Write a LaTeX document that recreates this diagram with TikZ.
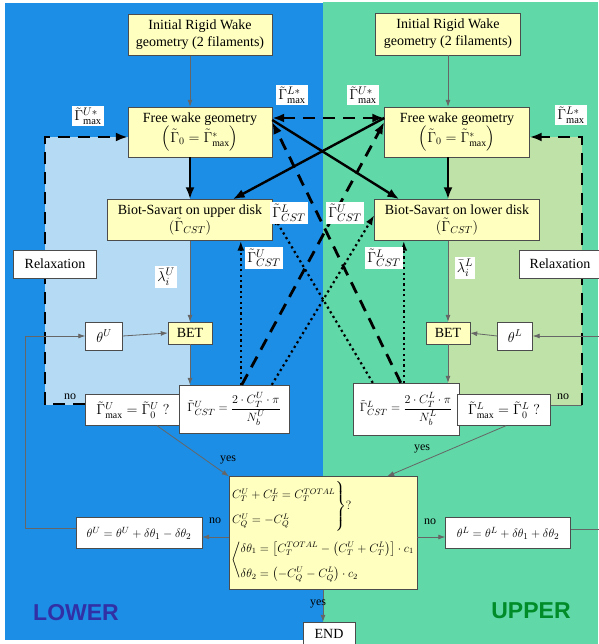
\documentclass[tikz,border=0pt]{standalone}
\usepackage{amsmath,amssymb}
\usepackage{fontspec}
\setmainfont{Liberation Serif}
\newfontfamily\capsfont{Liberation Sans}
\usepackage{tikz}
\usetikzlibrary{positioning, calc, arrows.meta, backgrounds}
\definecolor{sky}{RGB}{28,142,230}
\definecolor{mint}{RGB}{96,216,168}
\definecolor{paleblue}{RGB}{180,218,244}
\definecolor{palegreen}{RGB}{190,226,168}
\definecolor{cream}{RGB}{255,255,192}
\definecolor{lowink}{RGB}{50,48,165}
\definecolor{upink}{RGB}{0,140,40}
\newcommand{\rowgap}{\renewcommand{\arraystretch}{1.8}}
\tikzset{
  box/.style={draw=black!70,fill=cream,inner sep=2pt,
    font=\fontsize{14}{17}\selectfont,align=center},
  wbox/.style={draw=black!70,fill=white,inner sep=2pt,
    font=\fontsize{14}{17}\selectfont,align=center},
  tag/.style={fill=white,inner sep=2pt,font=\fontsize{15}{17}\selectfont},
  yn/.style={inner sep=1pt,font=\fontsize{12}{12}\selectfont},
  arr/.style={-{Latex[length=7pt,width=5pt]},draw=black!60,line width=0.8pt},
  tarr/.style={-{Latex[length=12pt,width=9pt]},line width=2.4pt},
  darr/.style={-{Latex[length=12pt,width=9pt]},line width=2.8pt,
    dash pattern=on 12pt off 8pt},
  oarr/.style={-{Latex[length=10pt,width=7pt]},line width=2.2pt,
    dash pattern=on 2.2pt off 3.2pt},
}

\begin{document}
\begin{tikzpicture}[x=1pt,y=-1pt]
  \useasboundingbox (0,0) rectangle (598,644);
  % the two halves
  \fill[white] (0,0) rectangle (598,644);
  \fill[sky] (5,3) rectangle (323,640);
  \fill[mint] (323,2) rectangle (598,644);
  \fill[paleblue] (45,137) rectangle (190,405);
  \fill[palegreen] (448,137) rectangle (582,405);

  % upper disk (left)
  \node[box,minimum width=144pt,minimum height=41pt] (iniU) at (200,35)
    {Initial Rigid Wake\\geometry (2 filaments)};
  \node[box,minimum width=144pt,minimum height=50pt] (fwU) at (200,132)
    {Free wake geometry\\$\left(\tilde{\Gamma}_0=\tilde{\Gamma}^{*}_{\max}\right)$};
  \node[box,minimum width=165pt,minimum height=41pt] (bsU) at (190,220)
    {Biot-Savart on upper disk\\$(\tilde{\Gamma}_{CST})$};
  \node[box,minimum width=44pt,minimum height=22pt] (betU) at (190,333) {BET};
  \node[wbox,minimum width=37pt,minimum height=28pt] (thU) at (104,336) {$\theta^U$};
  \node[wbox,minimum width=95pt,minimum height=31pt] (chkU) at (133,410)
    {$\tilde{\Gamma}^{U}_{\max}=\tilde{\Gamma}^{U}_{0}\;?$};
  \node[wbox,minimum width=110pt,minimum height=48pt,
    font=\fontsize{13}{15}\selectfont] (frmU) at (234,409)
    {$\tilde{\Gamma}^{U}_{CST}=\dfrac{2\cdot C_T^U\cdot\pi}{N_b^U}$};

  % lower disk (right)
  \node[box,minimum width=145pt,minimum height=42pt] (iniL) at (448,34)
    {Initial Rigid Wake\\geometry (2 filaments)};
  \node[box,minimum width=145pt,minimum height=50pt] (fwL) at (457,132)
    {Free wake geometry\\$\left(\tilde{\Gamma}_0=\tilde{\Gamma}^{*}_{\max}\right)$};
  \node[box,minimum width=165pt,minimum height=41pt] (bsL) at (457,220)
    {Biot-Savart on lower disk\\$(\tilde{\Gamma}_{CST})$};
  \node[box,minimum width=44pt,minimum height=22pt] (betL) at (448,333) {BET};
  \node[wbox,minimum width=35pt,minimum height=28pt] (thL) at (515,336) {$\theta^L$};
  \node[wbox,minimum width=106pt,minimum height=52pt,
    font=\fontsize{13}{15}\selectfont] (frmL) at (406,409)
    {$\tilde{\Gamma}^{L}_{CST}=\dfrac{2\cdot C_T^L\cdot\pi}{N_b^L}$};
  \node[wbox,minimum width=93pt,minimum height=31pt] (chkL) at (504,410)
    {$\tilde{\Gamma}^{L}_{\max}=\tilde{\Gamma}^{L}_{0}\;?$};

  % trim check
  \node[box,align=left,minimum width=186pt,minimum height=113pt,
    font=\fontsize{12}{14}\selectfont] (trim) at (323,533)
    {\rowgap$\left.\begin{array}{@{}l@{}}C_T^U+C_T^L=C_T^{TOTAL}\\
       C_Q^U=-C_Q^L\end{array}\right\}?$\\[2pt]
     \rowgap$\left\langle\begin{array}{@{}l@{}}
       \delta\theta_1=\left[C_T^{TOTAL}-\left(C_T^U+C_T^L\right)\right]\cdot c_1\\
       \delta\theta_2=\left(-C_Q^U-C_Q^L\right)\cdot c_2\end{array}\right.$};
  \node[wbox,minimum width=126pt,minimum height=31pt,
    font=\fontsize{13}{15}\selectfont] (updU) at (139,533)
    {$\theta^U=\theta^U+\delta\theta_1-\delta\theta_2$};
  \node[wbox,minimum width=125pt,minimum height=31pt,
    font=\fontsize{13}{15}\selectfont] (updL) at (508,533)
    {$\theta^L=\theta^L+\delta\theta_1+\delta\theta_2$};
  \node[wbox,minimum width=52pt,minimum height=24pt] (endn) at (329,634) {END};

  % main flow
  \draw[arr] (iniU.south -| betU) -- (fwU.north -| betU);
  \draw[arr] (iniL.south -| betL) -- (fwL.north -| betL);
  \draw[tarr] (fwU.south -| betU) -- (bsU.north -| betU);
  \draw[tarr] (fwL.south -| betL) -- (bsL.north -| betL);
  \draw[arr] (bsU.south -| betU) -- (betU.north);
  \draw[arr] (bsL.south -| betL) -- (betL.north);
  \draw[arr] (betU.south) -- (betU.south |- frmU.north);
  \draw[arr] (betL.south) -- (betL.south |- frmL.north);
  \draw[arr] (thU.east) -- (betU.west);
  \draw[arr] (thL.west) -- (betL.east);

  % crossing between the disks
  \coordinate (dU) at ($(frmU.north west)+(62,0)$);
  \coordinate (dL) at ($(frmL.north west)+(51,0)$);
  \draw[tarr] ($(fwU.east)+(0,-12)$) -- ($(bsL.north west)+(25,0)$);
  \draw[tarr] ($(fwL.west)+(0,-14)$) -- ($(bsU.north east)+(-40,0)$);
  \draw[darr,{Latex[length=12pt,width=9pt]}-{Latex[length=12pt,width=9pt]}]
    ($(fwU.east)+(0,-14)$) -- ($(fwL.west)+(0,-14)$);
  \draw[darr] ($(frmL.north west)+(48,0)$) -- ($(fwU.east)+(0,-10)$);
  \draw[darr] ($(frmU.north west)+(63,0)$) -- ($(fwL.west)+(0,-10)$);
  \draw[oarr] (dU) -- (dU |- bsU.south);
  \draw[oarr] (dL) -- (dL |- bsL.south);
  \draw[oarr] ($(frmU.north west)+(93,0)$) -- ($(bsL.west)+(0,-5)$);
  \draw[oarr] ($(frmL.north west)+(20,0)$) -- ($(bsU.east)+(0,-5)$);

  % relaxation loops
  \draw[darr] ($(chkU.west)+(0,-6)$) -| (45,137) -- ($(fwU.west)+(0,5)$);
  \draw[draw=black!60,line width=0.8pt] ($(chkL.east)+(0,-5)$) -- (582,405);
  \draw[darr] (582,405) -- (582,137) -- ($(fwL.east)+(0,5)$);
  \node[wbox,minimum width=83pt,minimum height=28pt] (rlxU) at (55,264) {Relaxation};
  \node[wbox,minimum width=82pt,minimum height=28pt] (rlxL) at (560,264) {Relaxation};

  % trim loops
  \draw[arr] ($(chkU.south)+(24,0)$) -- (trim.north west);
  \draw[arr] ($(chkL.south)+(2,0)$) -- ($(trim.north east)+(-30,0)$);
  \draw[arr] ($(trim.west)+(0,4)$) -- ($(updU.east)+(0,4)$);
  \draw[arr] ($(trim.east)+(0,4)$) -- ($(updL.west)+(0,4)$);
  \draw[arr] (trim.south) -- (trim.south |- endn.north);
  \draw[arr] ($(updU.west)+(0,-5)$) -| (25,336) -- (thU.west);
  \draw[arr] ($(updL.east)+(0,-4)$) -| (606,336) -- (thL.east);

  % transferred quantities
  \node[tag] (gUa) at (88,116) {$\tilde{\Gamma}^{U*}_{\max}$};
  \node[tag] (gLa) at (292,95) {$\tilde{\Gamma}^{L*}_{\max}$};
  \node[tag] (gUb) at (363,95) {$\tilde{\Gamma}^{U*}_{\max}$};
  \node[tag] (gLb) at (571,115) {$\tilde{\Gamma}^{L*}_{\max}$};
  \node[tag] (cLa) at (289,213) {$\tilde{\Gamma}^{L}_{CST}$};
  \node[tag] (cUa) at (345,213) {$\tilde{\Gamma}^{U}_{CST}$};
  \node[tag] (cUb) at (264,258) {$\tilde{\Gamma}^{U}_{CST}$};
  \node[tag] (cLb) at (384,258) {$\tilde{\Gamma}^{L}_{CST}$};
  \node[tag] (lamU) at (166,277) {$\bar{\lambda}_i^U$};
  \node[tag] (lamL) at (465,268) {$\bar{\lambda}_i^L$};

  \node[yn] (noU) at (70,397) {no};
  \node[yn] (noL) at (563,397) {no};
  \node[yn] (yesU) at (228,460) {yes};
  \node[yn] (yesL) at (422,449) {yes};
  \node[yn] (noTU) at (215,521) {no};
  \node[yn] (noTL) at (430,522) {no};
  \node[yn] (yesT) at (318,604) {yes};

  \node[text=lowink,font=\fontsize{23}{23}\selectfont\capsfont\bfseries] (lower) at (76,613) {LOWER};
  \node[text=upink,font=\fontsize{23}{23}\selectfont\capsfont\bfseries] (upper) at (531,611) {UPPER};
\end{tikzpicture}
\end{document}
